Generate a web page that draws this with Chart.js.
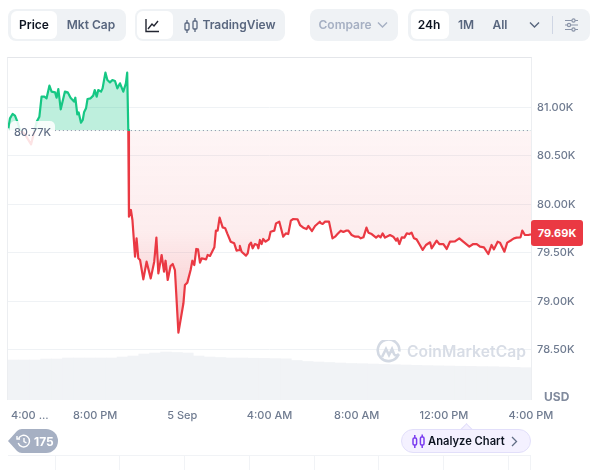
<!DOCTYPE html>
<html><head><meta charset="utf-8">
<script src="https://cdn.jsdelivr.net/npm/chart.js@4"></script>
<style>
html,body{margin:0;padding:0;background:#fff;width:596px;height:470px;overflow:hidden;font-family:Inter,sans-serif}
#wrap{position:relative;width:596px;height:470px;overflow:hidden}
canvas{position:absolute;left:0;top:0}
.a{position:absolute}
.grp{position:absolute;top:9px;height:32px;background:#eff2f5;border-radius:8px}
.sel{position:absolute;top:11px;height:28px;background:#fff;border-radius:6px}
.t{position:absolute;top:9px;height:32px;line-height:32px;font-size:12px;font-weight:600;color:#58667e;white-space:nowrap;transform:translateX(-50%)}
.vl{position:absolute;top:456px;height:14px;width:1px;background:#f1f3f6}
</style></head><body><div id="wrap">
<div class="a" style="left:7px;top:57px;width:525px;height:343px;border:1px solid #eceef1;border-bottom:none;border-top-color:#e4e6ea;box-sizing:border-box"></div>
<canvas id="c" width="596" height="470"></canvas>

<div class="grp" style="left:8px;width:118px"></div><div class="sel" style="left:11px;width:46px"></div>
<div class="t" style="left:34px;color:#0d1421">Price</div><div class="t" style="left:91px">Mkt Cap</div>
<div class="grp" style="left:135px;width:150px"></div><div class="sel" style="left:137px;width:36px"></div>
<svg class="a" style="left:145px;top:18px" width="15" height="15" viewBox="0 0 15 15" fill="none" stroke="#222531" stroke-width="1.4"><path d="M1 1v12.5h13M3 11l4-5 2 2 4-5"/></svg>
<svg class="a" style="left:184px;top:18px" width="14" height="15" viewBox="0 0 14 15" fill="none" stroke="#58667e" stroke-width="1.3"><rect x="1" y="5" width="4" height="7" rx="1"/><rect x="9" y="3" width="4" height="8" rx="1"/><path d="M3 2v3M3 12v3M11 0v3M11 11v3"/></svg>
<div class="t" style="left:239px">TradingView</div>
<div class="grp" style="left:310px;width:88px"></div>
<div class="t" style="left:345px;color:#a6b0c3">Compare</div>
<svg class="a" style="left:377px;top:21px" width="11" height="8" viewBox="0 0 11 8" fill="none" stroke="#a6b0c3" stroke-width="1.4"><path d="M1 1.5l4.5 4.5 4.5-4.5"/></svg>
<div class="grp" style="left:408px;width:182px"></div><div class="sel" style="left:411px;width:38px"></div>
<div class="t" style="left:429px;color:#0d1421">24h</div><div class="t" style="left:466px">1M</div><div class="t" style="left:500px">All</div>
<svg class="a" style="left:529px;top:21px" width="11" height="8" viewBox="0 0 11 8" fill="none" stroke="#58667e" stroke-width="1.4"><path d="M1 1.5l4.5 4.5 4.5-4.5"/></svg>
<div class="a" style="left:552px;top:16px;width:1px;height:18px;background:#cfd6e4"></div>
<svg class="a" style="left:565px;top:18px" width="13" height="14" viewBox="0 0 13 14" fill="none" stroke="#8a94a8" stroke-width="1.2"><path d="M0 2.5h13M0 7h13M0 11.5h13"/><circle cx="8.5" cy="2.5" r="1.6" fill="#eff2f5"/><circle cx="4" cy="7" r="1.6" fill="#eff2f5"/><circle cx="8.5" cy="11.5" r="1.6" fill="#eff2f5"/></svg>

<div class="a" style="left:10px;top:121px;width:45px;height:25px;background:rgba(255,255,255,.86);border-radius:5px;font-size:11px;font-weight:500;line-height:22px;text-align:center;color:#616e85">80.77K</div>
<div class="a" style="left:531px;top:220px;width:52px;height:26px;background:#ea3943;border-radius:3px;color:#fff;font-size:11px;font-weight:700;line-height:26px;text-align:center">79.69K</div>
<div class="a" style="left:544px;top:390px;font-size:12px;font-weight:700;color:#808a9d;line-height:14px">USD</div>

<svg class="a" style="left:376px;top:340px" width="25" height="25" viewBox="0 0 25 25" fill="none" stroke="#d3d9e3" stroke-width="2.6"><path d="M22.5 14.5A10.8 10.8 0 1 1 23.3 11.5"/><path d="M6 17l4-8 3 6 3-6 2 5c1 2 3 2 5 0"/></svg>
<div class="a" style="left:407px;top:343px;font-size:15.6px;font-weight:600;color:#d8dde6;line-height:18px;letter-spacing:.1px;white-space:nowrap">CoinMarketCap</div>

<svg class="a" style="left:8px;top:428px" width="51" height="26" viewBox="0 0 51 26"><path d="M0 13L9 3Q11 1 14 1H38A12 12 0 0 1 38 25H14Q11 25 9 23Z" fill="#a6b0c3"/><g fill="none" stroke="#fff" stroke-width="1.4"><path d="M10.5 10.5A5.8 5.8 0 1 1 10.2 15"/><path d="M16 10v3.5l2.5 1.5M9 8v3h3"/></g></svg>
<div class="a" style="left:34px;top:429px;height:24px;line-height:25px;color:#fff;font-size:12px;font-weight:700">175</div>

<div class="a" style="left:8px;top:455px;width:523px;height:1px;background:#f1f3f6"></div>
<div class="vl" style="left:55px"></div><div class="vl" style="left:119px"></div><div class="vl" style="left:184px"></div><div class="vl" style="left:249px"></div><div class="vl" style="left:314px"></div><div class="vl" style="left:378px"></div><div class="vl" style="left:443px"></div><div class="vl" style="left:508px"></div><div class="vl" style="left:530px"></div>

<div class="a" style="left:462px;top:425px;width:8px;height:8px;background:#f4f1ff;border-left:1px solid #e2dffa;border-top:1px solid #e2dffa;transform:rotate(45deg)"></div>
<div class="a" style="left:401px;top:429px;width:130px;height:24px;box-sizing:border-box;background:#f4f1ff;border:1px solid #e2dffa;border-radius:12px"></div>
<svg class="a" style="left:412px;top:434px" width="13" height="15" viewBox="0 0 13 15" fill="none" stroke="#7a3cf0" stroke-width="1.5"><rect x="1" y="4" width="3.6" height="7" rx="1.2"/><rect x="8.4" y="3" width="3.6" height="8" rx="1.2"/><path d="M2.8 1v3M2.8 11v3M10.2 0.5v2.5M10.2 11v3"/></svg>
<div class="a" style="left:428px;top:429px;height:24px;line-height:25px;font-size:11.2px;font-weight:600;color:#0d1421;white-space:nowrap">Analyze Chart</div>
<svg class="a" style="left:511px;top:436px" width="7" height="11" viewBox="0 0 7 11" fill="none" stroke="#616e85" stroke-width="1.3"><path d="M1 1l4.5 4.5L1 10"/></svg>
</div>
<script>
const hours = [0.015,0.09,0.21,0.32,0.43,0.55,0.78,1.06,1.32,1.44,1.54,1.67,1.77,1.90,2.00,2.16,2.23,2.31,2.42,2.61,2.74,2.87,3.03,3.09,3.18,3.24,3.35,3.43,3.49,3.58,3.65,3.79,3.91,3.98,4.07,4.14,4.27,4.34,4.47,4.56,4.68,4.79,4.91,5.02,5.14,5.29,5.41,5.47,5.52,
5.55,5.64,5.71,5.83,5.90,5.98,6.06,6.21,6.36,6.55,6.71,6.81,6.90,7.05,7.16,7.23,7.33,7.46,7.56,7.66,7.82,8.05,8.12,8.23,8.38,8.46,8.55,8.64,8.72,8.81,8.89,9.09,9.16,9.27,9.47,9.54,9.62,9.71,9.85,9.97,10.06,10.22,10.38,10.49,10.61,10.64,10.72,10.92,11.00,11.07,11.15,11.23,11.33,11.44,11.49,11.56,11.64,11.71,11.82,11.97,12.05,12.22,12.30,12.45,12.63,12.75,12.86,12.98,13.09,13.29,13.40,13.55,13.70,13.78,13.95,14.09,14.31,
14.32,14.44,14.55,14.73,14.89,15.01,15.12,15.27,15.39,15.51,15.62,15.77,15.93,16.08,16.19,16.31,16.45,16.54,16.69,16.89,17.00,17.10,17.19,17.30,17.53,17.68,17.81,17.87,17.96,18.07,18.19,18.30,18.42,18.52,18.63,18.75,18.88,19.03,19.18,19.37,19.44,19.67,19.79,19.98,20.13,20.28,20.51,20.71,20.89,21.17,21.35,21.51,21.66,21.84,22.04,22.19,22.30,22.47,22.58,22.78,22.91,23.11,23.22,23.34,23.52,23.60,23.72,23.88,24.00];
const prices = [80.783,80.886,80.931,80.914,80.852,80.766,80.721,80.618,80.852,80.903,81.109,81.109,81.092,81.223,81.161,81.154,81.099,81.188,80.979,81.161,81.154,81.099,81.058,81.099,80.927,80.948,80.841,80.869,80.948,80.989,81.085,81.092,81.120,81.178,81.109,81.178,81.161,81.195,81.357,81.281,81.257,81.281,81.271,81.195,81.247,81.161,81.247,81.357,80.766,
79.872,79.941,79.838,79.460,79.649,79.443,79.425,79.226,79.408,79.236,79.408,79.656,79.288,79.477,79.305,79.418,79.219,79.363,79.384,79.322,78.676,78.979,79.168,79.192,79.322,79.418,79.374,79.539,79.535,79.398,79.443,79.432,79.477,79.467,79.556,79.728,79.728,79.862,79.762,79.752,79.700,79.614,79.597,79.522,79.528,79.570,79.511,79.470,79.494,79.580,79.604,79.546,79.590,79.580,79.546,79.632,79.590,79.642,79.614,79.638,79.717,79.728,79.803,79.820,79.666,79.700,79.693,79.831,79.848,79.845,79.786,79.759,79.745,79.776,79.724,79.776,79.820,
79.810,79.797,79.821,79.821,79.649,79.666,79.693,79.728,79.714,79.728,79.728,79.683,79.666,79.666,79.649,79.659,79.759,79.707,79.693,79.656,79.676,79.659,79.700,79.656,79.683,79.666,79.625,79.649,79.590,79.659,79.656,79.700,79.693,79.707,79.649,79.638,79.587,79.529,79.580,79.608,79.546,79.625,79.590,79.590,79.539,79.614,79.618,79.649,79.614,79.563,79.590,79.590,79.563,79.556,79.487,79.580,79.535,79.614,79.604,79.511,79.604,79.632,79.649,79.656,79.659,79.728,79.683,79.683,79.690];
const volumeHours = [0.25,0.75,1.25,1.75,2.25,2.75,3.25,3.75,4.25,4.75,5.25,5.75,6.25,6.75,7.25,7.75,8.25,8.75,9.25,9.75,10.25,10.75,11.25,11.75,12.25,12.75,13.25,13.75,14.25,14.75,15.25,15.75,16.25,16.75,17.25,17.75,18.25,18.75,19.25,19.75,20.25,20.75,21.25,21.75,22.25,22.75,23.25,23.75];
const volumes = [40,40,40,41,41,42,42,42,42,42,43,44,46,47,48,47.5,47,44,43,42.5,42,42,41.8,41.6,41.4,41.2,39.5,38.5,38,37.5,37,36.5,36.3,36,35.6,35.3,35,34.7,34.4,34.2,34,33.8,33.6,33.4,33.3,33,32.6,32.3];
const baselinePrice = 80.76;
const yTicks = [78.5,79,79.5,80,80.5,81];
const xTicks = [1,4,8,12,16,20,24];
const xTickLabels = ['4:00 ...','8:00 PM','5 Sep','4:00 AM','8:00 AM','12:00 PM','4:00 PM'];
const GREEN='#16c784', RED='#ea3943';

const paintPlugin = {
  id:'paint',
  afterLayout(chart){
    const y=chart.scales.y, ctx=chart.ctx, d=chart.data.datasets[0];
    const by=y.getPixelForValue(baselinePrice);
    const stop=(by-y.top)/(y.bottom-y.top);
    const line=ctx.createLinearGradient(0,y.top,0,y.bottom);
    line.addColorStop(0,GREEN);line.addColorStop(stop,GREEN);line.addColorStop(stop,RED);line.addColorStop(1,RED);
    d.borderColor=line;
    const red=ctx.createLinearGradient(0,by,0,y.getPixelForValue(78.7));
    red.addColorStop(0,'rgba(234,57,67,0.05)');
    red.addColorStop(0.5,'rgba(234,57,67,0.09)');
    red.addColorStop(1,'rgba(234,57,67,0.30)');
    d.fill={value:baselinePrice,above:'rgba(22,199,132,0.28)',below:red};
  }
};

new Chart(document.getElementById('c'),{
  type:'line',
  plugins:[paintPlugin],
  data:{datasets:[
    {type:'line',label:'Price',data:hours.map((h,i)=>({x:h,y:prices[i]})),borderWidth:2.2,pointRadius:0,tension:0,order:1,yAxisID:'y',borderJoinStyle:'round'},
    {type:'line',label:'Open',data:[{x:2.15,y:baselinePrice},{x:24,y:baselinePrice}],borderColor:'#858ca2',borderWidth:1,borderDash:[1,3],pointRadius:0,fill:false,order:0,yAxisID:'y'},
    {type:'bar',label:'Volume',data:volumeHours.map((h,i)=>({x:h,y:volumes[i]})),backgroundColor:'#f1f3f6',barThickness:10.9,order:2,yAxisID:'vol'}
  ]},
  options:{
    responsive:false,animation:false,devicePixelRatio:1,
    layout:{padding:{left:8,top:58,right:0,bottom:0}},
    plugins:{legend:{display:false},tooltip:{enabled:false}},
    scales:{
      x:{type:'linear',min:0,max:24,offset:false,
        grid:{display:false},border:{display:false},
        afterBuildTicks:s=>{s.ticks=xTicks.map(v=>({value:v}));},
        afterFit:s=>{s.height=70;s.paddingLeft=0;s.paddingRight=0;},
        ticks:{autoSkip:false,maxRotation:0,padding:1,color:'#6f7b90',font:{family:'Inter',size:11,weight:'500'},
          callback:(v)=>xTickLabels[xTicks.indexOf(v)]}},
      y:{position:'right',min:77.982,max:81.508,
        grid:{color:'#eff2f5',drawTicks:false},border:{display:false},
        afterBuildTicks:s=>{s.ticks=yTicks.map(v=>({value:v}));},
        afterFit:s=>{s.width=65;s.paddingTop=0;s.paddingBottom=0;},
        ticks:{padding:6,color:'#6f7b90',font:{family:'Inter',size:11,weight:'500'},callback:v=>v.toFixed(2)+'K'}},
      vol:{display:false,min:0,max:342}
    }
  }
});
</script></body></html>
